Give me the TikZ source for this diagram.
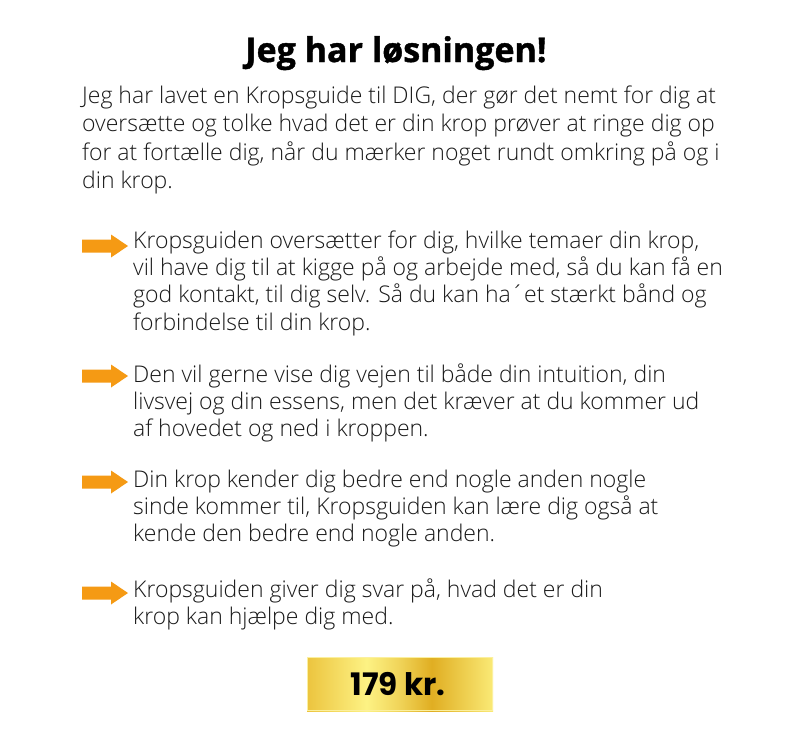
\documentclass[tikz,border=0pt]{standalone}
\usepackage{fontspec}
\setmainfont{Open Sans}[UprightFont=* Light, BoldFont=* Bold]
\newfontfamily\pricefont{Poppins}[UprightFont=* Bold]
\newfontfamily\titlefont{Open Sans}[UprightFont=* Bold, FakeBold=1.2]
\definecolor{arroworange}{RGB}{245,154,20}
\definecolor{goldA}{RGB}{236,196,62}
\definecolor{goldB}{RGB}{253,242,132}
\definecolor{goldC}{RGB}{224,174,34}
\definecolor{goldD}{RGB}{250,234,118}
\definecolor{textgray}{RGB}{25,25,25}
\pgfdeclarehorizontalshading{goldshade}{100bp}{
  color(0bp)=(goldA); color(25bp)=(goldA); color(41bp)=(goldB); color(50bp)=(goldB!55!goldC); color(58.5bp)=(goldC); color(75bp)=(goldD); color(100bp)=(goldD)}
\tikzset{
  bodyline/.style={anchor=base west, inner sep=0pt, font=\fontsize{23}{28}\selectfont, text=textgray},
  bulletarrow/.pic={\fill[arroworange] (0,-6.5) -- (29,-6.5) -- (29,-11.5) -- (46,0) -- (29,11.5) -- (29,6.5) -- (0,6.5) -- cycle;}
}
\begin{document}
\begin{tikzpicture}[x=1pt,y=-1pt]
\useasboundingbox (0,0) rectangle (800,731);
\fill[white] (0,0) rectangle (800,731);
% title
\node[anchor=base, inner sep=0pt, font=\titlefont\fontsize{34}{40}\selectfont] (title) at (396,62) {Jeg har løsningen!};
% intro
\node[bodyline] (i1) at (82,103) {Jeg har lavet en Kropsguide til DIG, der gør det nemt for dig at};
\node[bodyline] (i2) at (82,131.5) {oversætte og tolke hvad det er din krop prøver at ringe dig op};
\node[bodyline] (i3) at (82,160) {for at fortælle dig, når du mærker noget rundt omkring på og i};
\node[bodyline] (i4) at (82,188) {din krop.};
% bullet 1
\pic (a1) at (82,246) {bulletarrow};
\node[bodyline] (b11) at (133,248) {Kropsguiden oversætter for dig, hvilke temaer din krop,};
\node[bodyline] (b12) at (133,275) {vil have dig til at kigge på og arbejde med, så du kan få en};
\node[bodyline] (b13) at (133,302.5) {god kontakt, til dig selv. Så du kan ha´et stærkt bånd og};
\node[bodyline] (b14) at (133,330) {forbindelse til din krop.};
% bullet 2
\pic (a2) at (82,376) {bulletarrow};
\node[bodyline] (b21) at (133,382) {Den vil gerne vise dig vejen til både din intuition, din};
\node[bodyline] (b22) at (133,409) {livsvej og din essens, men det kræver at du kommer ud};
\node[bodyline] (b23) at (133,436) {af hovedet og ned i kroppen.};
% bullet 3
\pic (a3) at (82,482) {bulletarrow};
\node[bodyline] (b31) at (133,487) {Din krop kender dig bedre end nogle anden nogle};
\node[bodyline] (b32) at (133,514) {sinde kommer til, Kropsguiden kan lære dig også at};
\node[bodyline] (b33) at (133,541) {kende den bedre end nogle anden.};
% bullet 4
\pic (a4) at (82,593) {bulletarrow};
\node[bodyline] (b41) at (133,597) {Kropsguiden giver dig svar på, hvad det er din};
\node[bodyline] (b42) at (133,624) {krop kan hjælpe dig med.};
% price box
\shade[shading=goldshade] (307,657) rectangle (493,711);
\draw[goldD!70!white, line width=1.2pt] (307.6,657.6) rectangle (492.4,710.4);
\node[anchor=base, inner sep=0pt, font=\pricefont\fontsize{31}{36}\selectfont] (price) at (398,695) {179 kr.};
\end{tikzpicture}
\end{document}
